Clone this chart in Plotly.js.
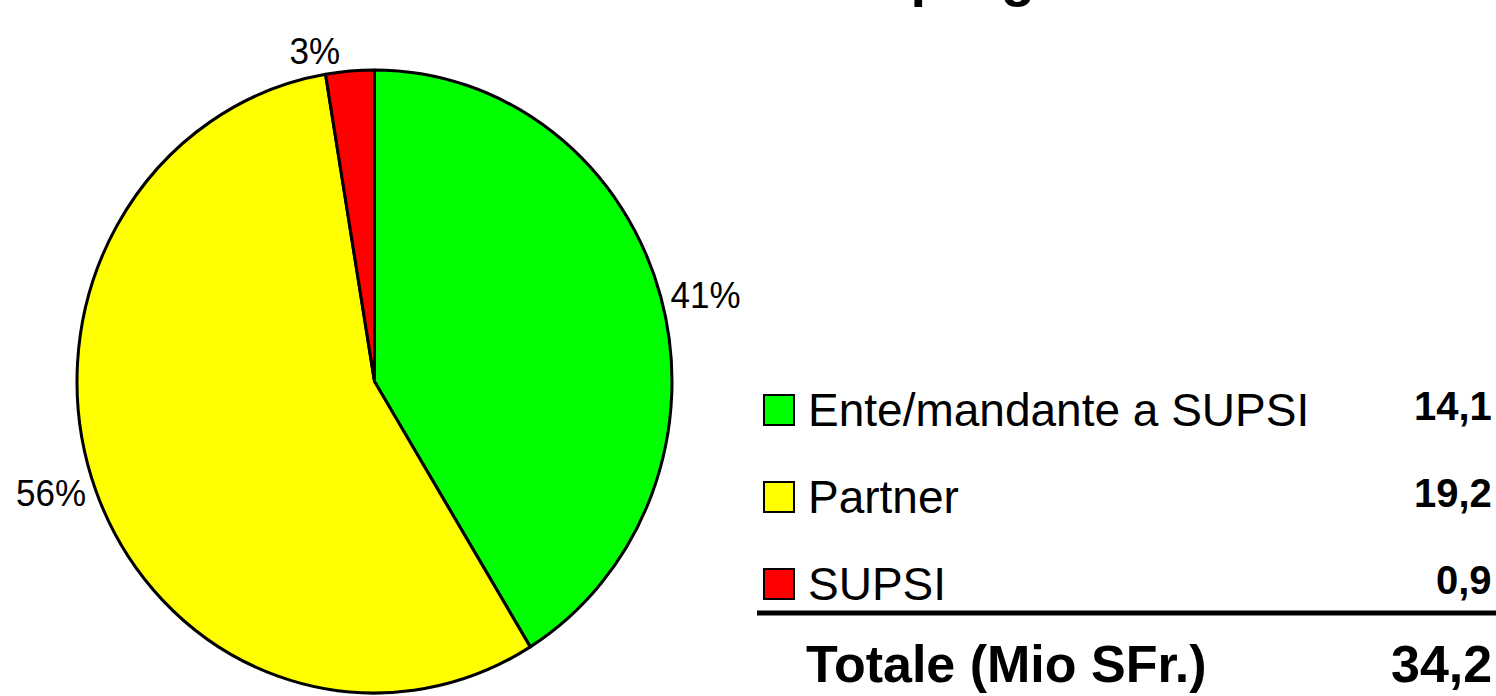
<!DOCTYPE html>
<html>
<head>
<meta charset="utf-8">
<script src="https://cdn.plot.ly/plotly-3.0.1.min.js"></script>
<style>
  html, body { margin: 0; padding: 0; background: #fff; }
  #chart { width: 1496px; height: 696px; }
</style>
</head>
<body>
<div id="chart"></div>
<script>
// Funding shares (Mio SFr.)
const labels = ['Ente/mandante a SUPSI', 'Partner', 'SUPSI'];
const values = [14.1, 19.2, 0.9];
const colors = ['#00ff00', '#ffff00', '#ff0000'];
const totalLabel = 'Totale (Mio SFr.)';
const titleText = 'Finanziamento progetti';

const W = 1496, H = 696;
const FONT = 'Liberation Sans, Arial, Helvetica, sans-serif';

// pixel helpers for paper coordinates
const px = x => x / W;
const py = y => 1 - y / H;

const fmt = v => v.toFixed(1).replace('.', ',');
const total = values.reduce((a, b) => a + b, 0);

// pie is drawn as a circle, then stretched a little vertically like the original
const cx = 374.5, cy = 381.5, rx = 297.5, ry = 311.5;

const pieTrace = {
    type: 'pie',
    labels: labels,
    values: values,
    sort: false,
    direction: 'clockwise',
    rotation: 0,
    marker: { colors: colors, line: { color: '#000', width: 3 } },
    textposition: 'outside',
    texttemplate: '%{percent:.0%}',
    textfont: { family: FONT, size: 35, color: '#000' },
    hoverinfo: 'label+value+percent',
    showlegend: false,
    domain: { x: [px(cx - rx), px(cx + rx)], y: [py(cy + rx), py(cy - rx)] }
};

// Legend-like table on the right
const rowY = [410, 497, 584];
const annotations = [];
const shapes = [];

labels.forEach((lab, i) => {
    shapes.push({
        type: 'rect', xref: 'paper', yref: 'paper',
        x0: px(764), x1: px(794), y0: py(rowY[i] - 15), y1: py(rowY[i] + 15),
        fillcolor: colors[i], line: { color: '#000', width: 2 }
    });
    annotations.push({
        xref: 'paper', yref: 'paper', x: px(806), y: py(rowY[i]),
        xanchor: 'left', yanchor: 'middle', showarrow: false,
        text: lab, font: { family: FONT, size: 46, color: '#000' }
    });
    annotations.push({
        xref: 'paper', yref: 'paper', x: px(1494), y: py(rowY[i] - 4),
        xanchor: 'right', yanchor: 'middle', showarrow: false,
        text: '<b>' + fmt(values[i]) + '</b>', font: { family: FONT, size: 40, color: '#000' }
    });
});

// separator line above total
shapes.push({
    type: 'line', xref: 'paper', yref: 'paper',
    x0: px(757), x1: 1, y0: py(613), y1: py(613),
    line: { color: '#000', width: 5 }
});

annotations.push({
    xref: 'paper', yref: 'paper', x: px(804), y: py(664),
    xanchor: 'left', yanchor: 'middle', showarrow: false,
    text: '<b>' + totalLabel + '</b>', font: { family: FONT, size: 52, color: '#000' }
});
annotations.push({
    xref: 'paper', yref: 'paper', x: px(1494), y: py(664),
    xanchor: 'right', yanchor: 'middle', showarrow: false,
    text: '<b>' + fmt(total) + '</b>', font: { family: FONT, size: 52, color: '#000' }
});

// title, mostly cut off above the picture
annotations.push({
    xref: 'paper', yref: 'paper', x: px(1121), y: py(9),
    xanchor: 'right', yanchor: 'bottom', showarrow: false,
    text: '<b>' + titleText + '</b>', font: { family: FONT, size: 56, color: '#000' }
});

const layout = {
    width: W,
    height: H,
    margin: { l: 0, r: 0, t: 0, b: 0 },
    paper_bgcolor: '#fff',
    plot_bgcolor: '#fff',
    showlegend: false,
    annotations: annotations,
    shapes: shapes
};

Plotly.newPlot('chart', [pieTrace], layout, { displayModeBar: false, staticPlot: true }).then(gd => {
    const layer = gd.querySelector('.pielayer');
    if (layer) {
        const k = ry / rx;
        layer.setAttribute('transform',
            'translate(0,' + cy + ') scale(1,' + k + ') translate(0,' + (-cy) + ')');
    }
});
</script>
</body>
</html>
